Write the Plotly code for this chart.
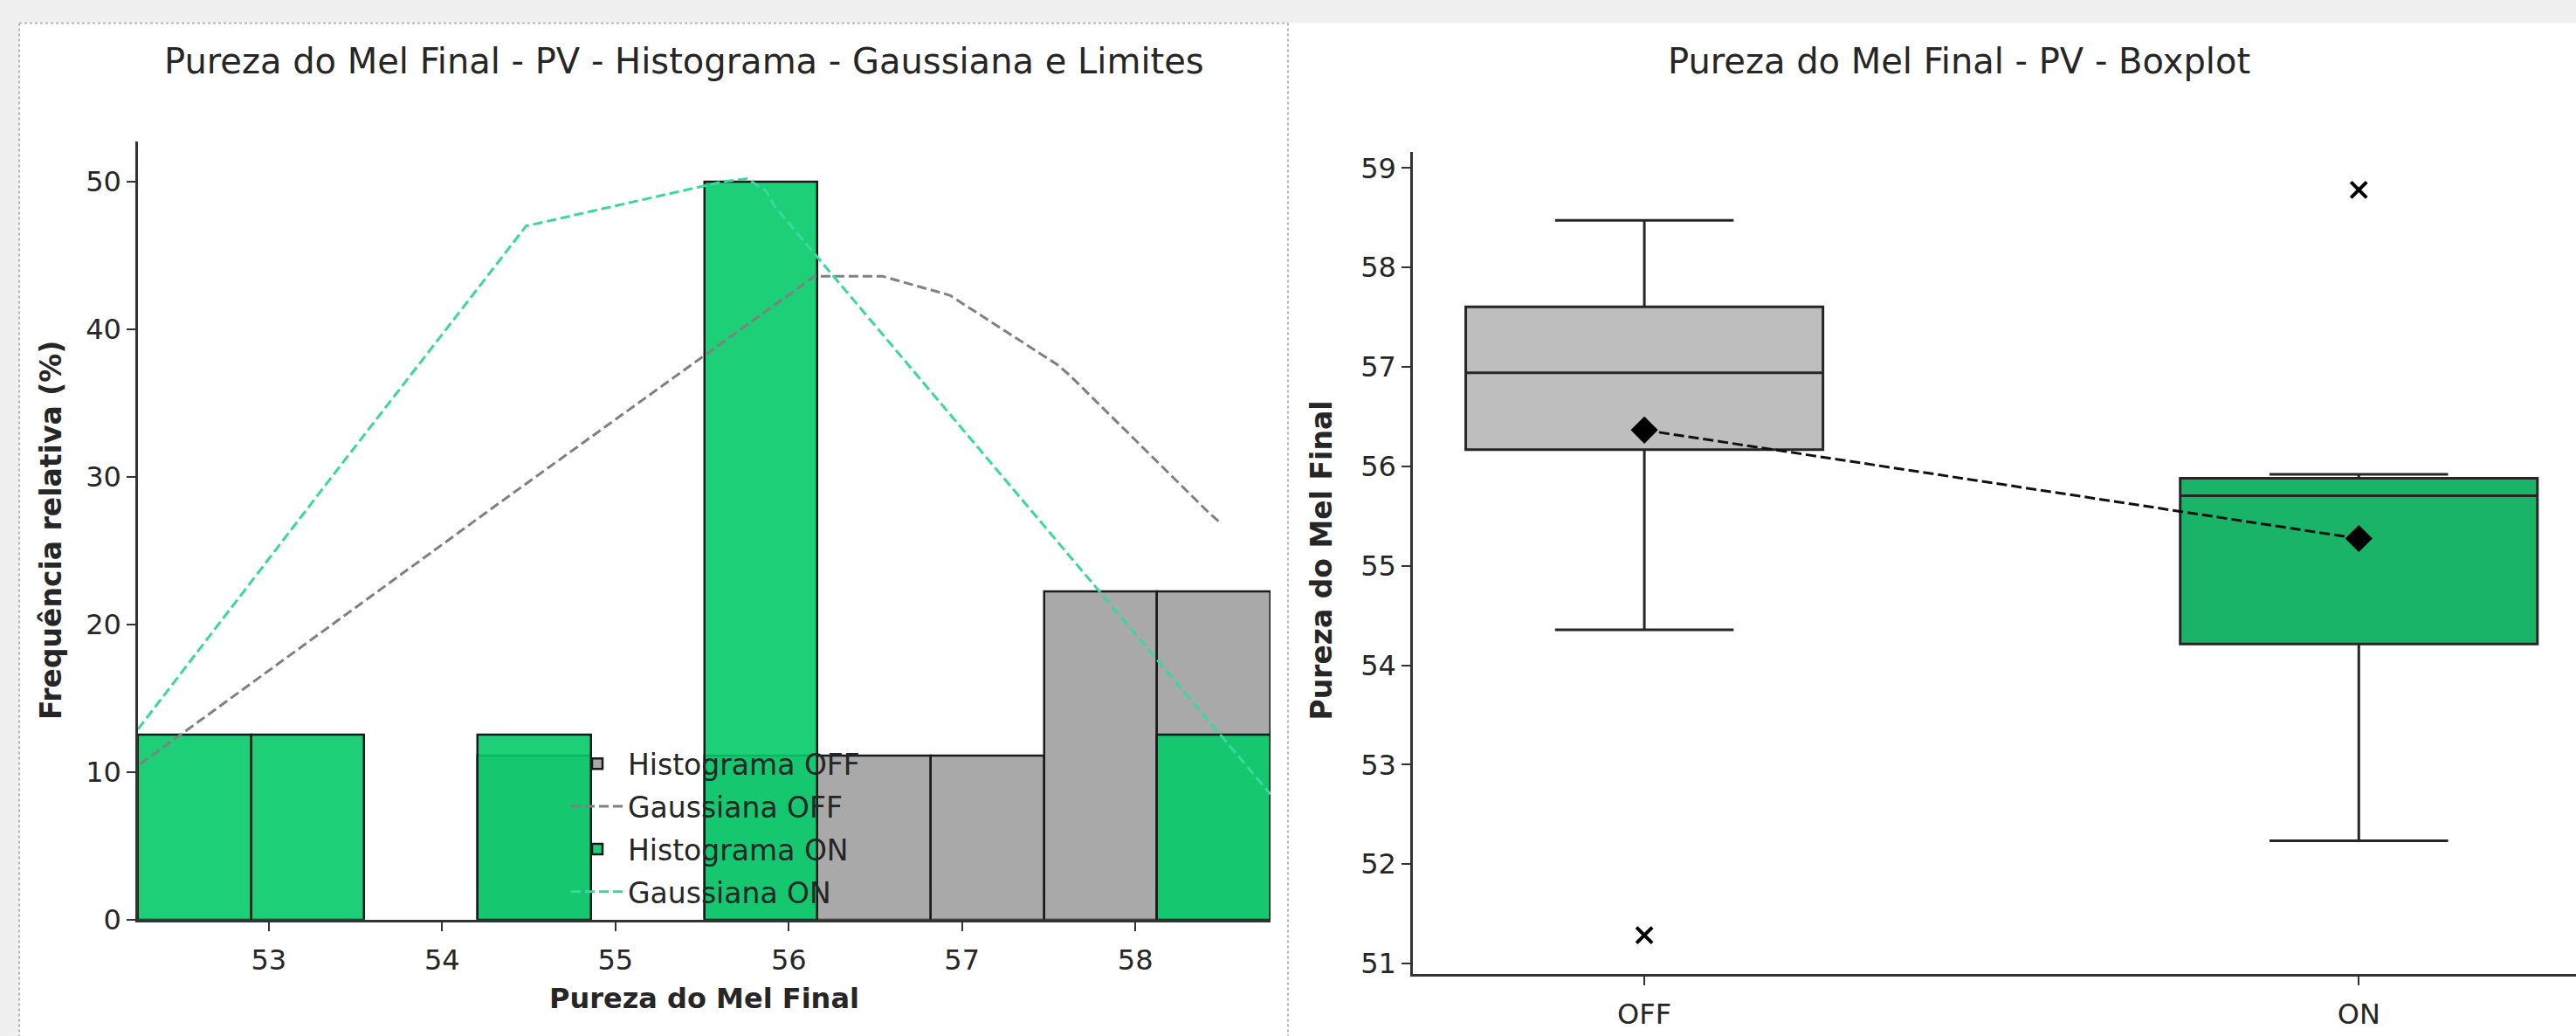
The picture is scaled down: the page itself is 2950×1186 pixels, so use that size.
import plotly.graph_objects as go

W, H = 2950, 1186

# ---------------- data ----------------
bin_edges = [52.245, 52.899, 53.552, 54.206, 54.859, 55.513, 56.166, 56.820, 57.473, 58.127, 58.780]
hist_off = [None, None, None, 11.1, None, 11.1, 11.1, 11.1, 22.2, 22.2]
hist_on = [12.5, 12.5, None, 12.5, None, 50.0, None, None, None, 12.5]

gauss_off_x = [51.28, 54.35, 56.15, 56.54, 56.93, 57.55, 57.62, 58.43, 58.48]
gauss_off_y = [2.2, 28.4, 43.6, 43.6, 42.3, 37.6, 36.9, 27.5, 27.0]
gauss_on_x = [52.245, 53.35, 54.485, 55.62, 55.76, 55.867, 55.92, 58.78]
gauss_on_y = [12.9, 29.8, 47.0, 50.0, 50.2, 49.4, 48.3, 8.5]

hist_xticks = [53, 54, 55, 56, 57, 58]
hist_yticks = [0, 10, 20, 30, 40, 50]

box_groups = ["OFF", "ON"]
box_q1 = [56.167, 54.213]
box_median = [56.94, 55.704]
box_q3 = [57.605, 55.88]
box_low = [54.357, 52.235]
box_high = [58.475, 55.92]
box_mean = [56.365, 55.274]
box_outliers = [51.284, 58.78]
box_yticks = [51, 52, 53, 54, 55, 56, 57, 58, 59]

# ---------------- helpers ----------------
def px(x):
    return x / W

def py(y):
    return 1 - y / H

FONT = "DejaVu Sans"
TXT = "#262626"
AX = "#333333"

centers = [(bin_edges[i] + bin_edges[i + 1]) / 2 for i in range(len(hist_on))]
widths = [bin_edges[i + 1] - bin_edges[i] for i in range(len(hist_on))]

fig = go.Figure()

fig.add_trace(go.Bar(
    x=centers, y=hist_off, width=widths, name="Histograma OFF", legendgroup="a",
    marker=dict(color="rgba(160,160,160,0.9)", line=dict(color="#1a1a1a", width=2.5)),
    xaxis="x", yaxis="y"))
fig.add_trace(go.Scatter(
    x=gauss_off_x, y=gauss_off_y, mode="lines", name="Gaussiana OFF", legendgroup="b",
    line=dict(color="#808080", width=3, dash="11px,5px"), xaxis="x", yaxis="y"))
fig.add_trace(go.Bar(
    x=centers, y=hist_on, width=widths, name="Histograma ON", legendgroup="c",
    marker=dict(color="rgba(4,203,105,0.9)", line=dict(color="#1a1a1a", width=2.5)),
    xaxis="x", yaxis="y"))
fig.add_trace(go.Scatter(
    x=gauss_on_x, y=gauss_on_y, mode="lines", name="Gaussiana ON", legendgroup="d",
    line=dict(color="#3ad89c", width=3, dash="11px,5px"), xaxis="x", yaxis="y"))

# ---------------- boxplot ----------------
box_colors = ["#bebebe", "#1ab468"]
for i, g in enumerate(box_groups):
    fig.add_trace(go.Box(
        x=[g], q1=[box_q1[i]], median=[box_median[i]], q3=[box_q3[i]],
        lowerfence=[box_low[i]], upperfence=[box_high[i]],
        width=0.5, whiskerwidth=0.5, boxpoints=False,
        fillcolor=box_colors[i], line=dict(color="#262626", width=3),
        showlegend=False, hoverinfo="skip", xaxis="x2", yaxis="y2"))

fig.add_trace(go.Scatter(
    x=box_groups, y=box_mean, mode="lines+markers", showlegend=False,
    line=dict(color="#111111", width=3, dash="12px,5px"),
    marker=dict(symbol="diamond", size=24, color="#000000"),
    xaxis="x2", yaxis="y2"))
fig.add_trace(go.Scatter(
    x=box_groups, y=box_outliers, mode="markers", showlegend=False,
    marker=dict(symbol="x-thin", size=18, color="#000000",
                line=dict(color="#000000", width=4)),
    xaxis="x2", yaxis="y2"))

axis_common = dict(
    showline=True, linecolor=AX, linewidth=2.5, mirror=False,
    ticks="outside", ticklen=10, tickwidth=2, tickcolor=AX,
    showgrid=False, zeroline=False,
    tickfont=dict(family=FONT, size=32, color=TXT),
)

fig.update_layout(
    width=W, height=H, autosize=False,
    margin=dict(l=0, r=0, t=0, b=0, pad=0),
    paper_bgcolor="#f0f0f0", plot_bgcolor="rgba(0,0,0,0)",
    barmode="overlay", bargap=0,
    font=dict(family=FONT, color=TXT),
    xaxis=dict(domain=[px(158), px(1455)], range=[bin_edges[0], bin_edges[-1]],
               tickvals=hist_xticks, anchor="y", ticklabelstandoff=6, **axis_common),
    yaxis=dict(domain=[py(1070), py(165)], range=[0, 52.7],
               tickvals=hist_yticks, anchor="x", **axis_common),
    xaxis2=dict(domain=[px(1618), 1.0], range=[-0.324, 1.304], type="category",
                categoryorder="array", categoryarray=box_groups, anchor="y2",
                ticklabelstandoff=6, **axis_common),
    yaxis2=dict(domain=[py(1133), py(177)], range=[50.896, 59.16],
                tickvals=box_yticks, anchor="x2", **axis_common),
    legend=dict(x=px(649), y=py(860), xanchor="left", yanchor="top",
                bgcolor="rgba(0,0,0,0)", borderwidth=0,
                font=dict(family=FONT, size=33, color=TXT),
                itemwidth=60, tracegroupgap=3, traceorder="grouped"),
    showlegend=True,
)

# panel backgrounds and dotted borders
fig.add_shape(type="rect", xref="paper", yref="paper", layer="below",
              x0=px(22), x1=1.05, y0=-0.05, y1=py(27), fillcolor="#ffffff", line=dict(width=0))
dot = dict(color="#b5b5b5", width=2, dash="dot")
fig.add_shape(type="line", xref="paper", yref="paper", layer="below",
              x0=px(22), x1=px(1475), y0=py(27), y1=py(27), line=dot)
fig.add_shape(type="line", xref="paper", yref="paper", layer="below",
              x0=px(22), x1=px(22), y0=py(27), y1=-0.05, line=dot)
fig.add_shape(type="line", xref="paper", yref="paper", layer="below",
              x0=px(1475), x1=px(1475), y0=py(27), y1=-0.05, line=dot)

# titles and axis titles
def ann(text, x, y, size, bold=False, angle=0, yanchor="middle"):
    fig.add_annotation(text=f"<b>{text}</b>" if bold else text,
                       xref="paper", yref="paper", x=px(x), y=py(y),
                       xanchor="center", yanchor=yanchor, showarrow=False,
                       textangle=angle, borderpad=0,
                       font=dict(family=FONT, size=size, color=TXT))

ann("Pureza do Mel Final - PV - Histograma - Gaussiana e Limites", 784, 71, 40)
ann("Pureza do Mel Final - PV - Boxplot", 2243, 71, 40)
ann("Frequência relativa (%)", 58, 617, 33, bold=True, angle=-90)
ann("Pureza do Mel Final", 806, 1141, 32, bold=True, yanchor="top")
ann("Pureza do Mel Final", 1514, 652, 33, bold=True, angle=-90)

fig.write_html("out.html", config={"displayModeBar": False})
